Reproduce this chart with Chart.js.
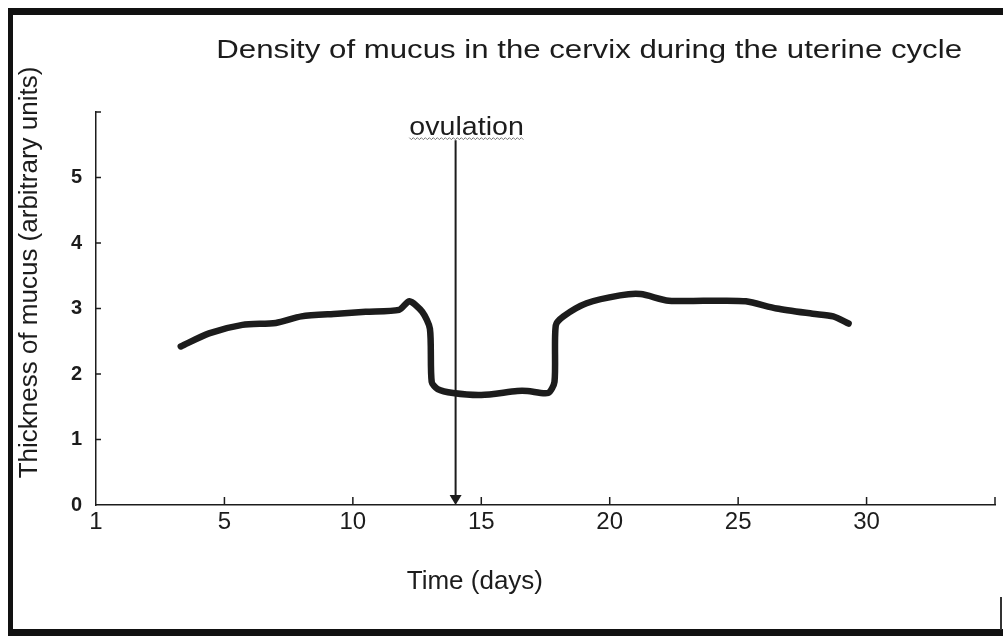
<!DOCTYPE html>
<html>
<head>
<meta charset="utf-8">
<script src="https://cdn.jsdelivr.net/npm/chart.js@4.4.1/dist/chart.umd.min.js"></script>
<style>
  html, body { margin: 0; padding: 0; background: #fff; }
  #wrap { position: relative; width: 1003px; height: 636px; }
  #frame { position: absolute; left: 8px; top: 8px; width: 995px; height: 628px; box-sizing: border-box;
           border-top: 7px solid #111; border-left: 5px solid #111; border-bottom: 7px solid #111; pointer-events: none; }
  #edge { position: absolute; left: 1000px; top: 597px; width: 2px; height: 33px; background: #333; pointer-events: none; }
</style>
</head>
<body>
<div id="wrap">
  <canvas id="mucusChart" width="1003" height="636"></canvas>
  <div id="frame"></div>
  <div id="edge"></div>
</div>
<script>
// data
var days = [3.3, 4.4, 5.7, 7.0, 8.0, 9.4, 10.5, 11.8, 12.2, 12.7, 13.0, 13.07, 13.3, 13.9, 15.0, 16.4, 16.8, 17.6,
  17.85, 17.9, 18.2, 19.1, 20.4, 21.2, 22.3, 24.3, 25.3, 26.5, 27.9, 28.7, 29.3];
var thickness = [2.42, 2.62, 2.75, 2.78, 2.88, 2.92, 2.95, 2.98, 3.11, 2.95, 2.69, 1.88, 1.77, 1.71, 1.68, 1.74, 1.74, 1.71,
  1.88, 2.74, 2.88, 3.08, 3.2, 3.22, 3.12, 3.12, 3.11, 3.0, 2.92, 2.88, 2.77];

var xTickValues = [0, 5, 10, 15, 20, 25, 30, 35];
var xTickLabels = ["1", "5", "10", "15", "20", "25", "30", ""];
var yTickValues = [0, 1, 2, 3, 4, 5, 6];
var yTickLabels = ["0", "1", "2", "3", "4", "5", ""];

var chartTitle = "Density of mucus in the cervix during the uterine cycle";
var xTitle = "Time (days)";
var yTitle = "Thickness of mucus (arbitrary units)";
var ovulationDay = 14;
var ovulationTop = 5.57;
var ovulationLabel = "ovulation";

var FONT = "'Liberation Sans', Arial, sans-serif";
var INK = "#1c1c1c";

// the scanned sketch has slightly stretched lettering
function stretchedText(ctx, text, cx, cy, sx) {
  ctx.save();
  ctx.translate(cx, cy);
  ctx.scale(sx, 1);
  ctx.fillText(text, 0, 0);
  ctx.restore();
}

var sketchExtras = {
  id: "sketchExtras",
  afterDraw: function (chart) {
    var ctx = chart.ctx, area = chart.chartArea;
    var x = chart.scales.x, y = chart.scales.y;
    ctx.save();

    // inward tick marks
    ctx.strokeStyle = INK;
    ctx.lineWidth = 1.5;
    ctx.beginPath();
    xTickValues.forEach(function (v) {
      if (v === 0) return;
      var px = x.getPixelForValue(v);
      ctx.moveTo(px, area.bottom);
      ctx.lineTo(px, area.bottom - 8);
    });
    yTickValues.forEach(function (v) {
      if (v === 0) return;
      var py = y.getPixelForValue(v);
      ctx.moveTo(area.left, py);
      ctx.lineTo(area.left + 5, py);
    });
    ctx.stroke();

    // ovulation arrow
    var ax = x.getPixelForValue(ovulationDay);
    var top = y.getPixelForValue(ovulationTop);
    var tip = y.getPixelForValue(0);
    ctx.lineWidth = 2;
    ctx.beginPath();
    ctx.moveTo(ax, top);
    ctx.lineTo(ax, tip - 8);
    ctx.stroke();
    ctx.fillStyle = INK;
    ctx.beginPath();
    ctx.moveTo(ax - 6, tip - 10);
    ctx.lineTo(ax + 6, tip - 10);
    ctx.lineTo(ax, tip);
    ctx.closePath();
    ctx.fill();

    // label with its wavy underline
    ctx.font = "26px " + FONT;
    ctx.textAlign = "center";
    ctx.textBaseline = "alphabetic";
    var lx = ax + 11;
    stretchedText(ctx, ovulationLabel, lx, top - 5, 1.1);
    var w = ctx.measureText(ovulationLabel).width * 1.1;
    ctx.strokeStyle = "#777";
    ctx.lineWidth = 1;
    ctx.beginPath();
    for (var i = 0, sx = lx - w / 2; sx <= lx + w / 2; sx += 2, i++) {
      var sy = top - 2 + (i % 2 ? 1.5 : -0.5);
      if (i === 0) ctx.moveTo(sx, sy); else ctx.lineTo(sx, sy);
    }
    ctx.stroke();

    // chart title and axis titles
    ctx.fillStyle = INK;
    ctx.textBaseline = "middle";
    ctx.font = "26px " + FONT;
    stretchedText(ctx, chartTitle, x.getPixelForValue(19.2), area.top - 61, 1.2);
    ctx.fillText(xTitle, x.getPixelForValue(14.75), area.bottom + 77);
    ctx.translate(area.left - 66, y.getPixelForValue(3.55));
    ctx.rotate(-Math.PI / 2);
    ctx.fillText(yTitle, 0, 0);
    ctx.restore();
  }
};

var ctx = document.getElementById("mucusChart").getContext("2d");
var myChart = new Chart(ctx, {
  type: "line",
  data: {
    datasets: [
      {
        label: "Thickness of mucus",
        data: days.map(function (d, i) { return { x: d, y: thickness[i] }; }),
        borderColor: INK,
        backgroundColor: INK,
        borderWidth: 6.5,
        borderCapStyle: "round",
        borderJoinStyle: "round",
        pointRadius: 0,
        tension: 0.25,
        fill: false,
      },
    ],
  },
  options: {
    responsive: false,
    animation: false,
    layout: { padding: { left: 0, right: 8, top: 112, bottom: 0 } },
    plugins: {
      legend: { display: false },
      tooltip: { enabled: false },
      title: { display: false },
    },
    scales: {
      x: {
        type: "linear",
        min: 0,
        max: 35,
        afterBuildTicks: function (scale) {
          scale.ticks = xTickValues.map(function (v) { return { value: v }; });
        },
        afterFit: function (scale) { scale.height = 131; },
        ticks: {
          autoSkip: false,
          maxRotation: 0,
          padding: 3,
          color: INK,
          font: { family: FONT, size: 24 },
          callback: function (v) { return xTickLabels[xTickValues.indexOf(v)]; },
        },
        grid: { drawOnChartArea: false, drawTicks: false },
        border: { color: INK, width: 1.5 },
      },
      y: {
        type: "linear",
        min: 0,
        max: 6,
        afterBuildTicks: function (scale) {
          scale.ticks = yTickValues.map(function (v) { return { value: v }; });
        },
        afterFit: function (scale) { scale.width = 96; },
        ticks: {
          autoSkip: false,
          padding: 14,
          color: INK,
          font: { family: FONT, size: 20, weight: "bold" },
          callback: function (v) { return yTickLabels[yTickValues.indexOf(v)]; },
        },
        grid: { drawOnChartArea: false, drawTicks: false },
        border: { color: INK, width: 1.5 },
      },
    },
  },
  plugins: [sketchExtras],
});
</script>
</body>
</html>
